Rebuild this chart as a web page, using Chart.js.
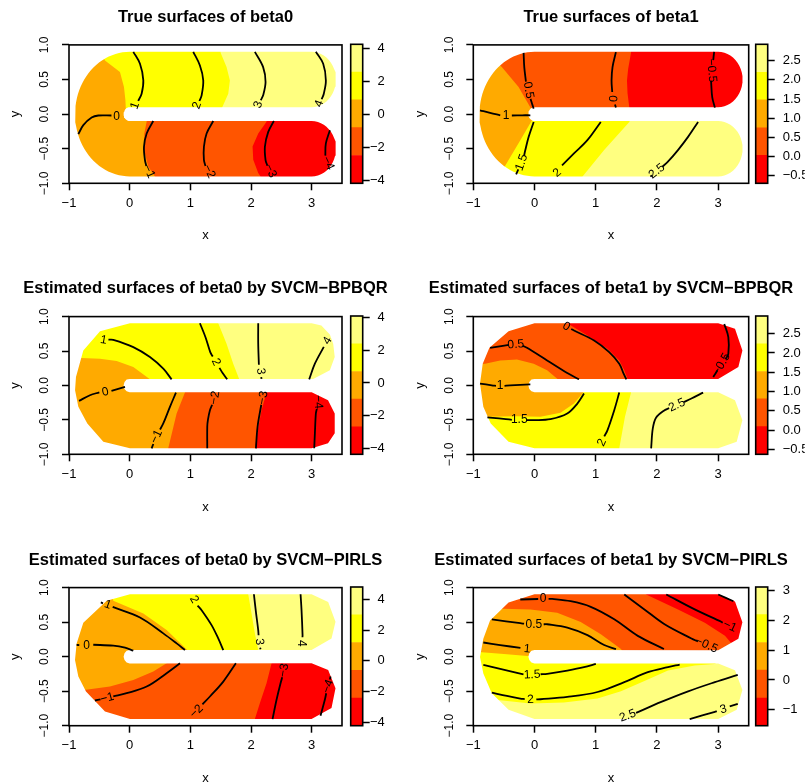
<!DOCTYPE html>
<html><head><meta charset="utf-8"><title>beta surfaces</title>
<script src="https://cdn.jsdelivr.net/npm/chart.js"></script>
<style>
html,body{margin:0;padding:0;background:#fff;}
body{width:811px;height:783px;overflow:hidden;position:relative;}
canvas{position:absolute;}
</style></head><body>
<script>
// ---------------- data ----------------
const heat = ['#FF0000', '#FF5500', '#FFAA00', '#FFFF00', '#FFFF80'];
const titles = ['True surfaces of beta0', 'True surfaces of beta1',
  'Estimated surfaces of beta0 by SVCM\u2212BPBQR', 'Estimated surfaces of beta1 by SVCM\u2212BPBQR',
  'Estimated surfaces of beta0 by SVCM\u2212PIRLS', 'Estimated surfaces of beta1 by SVCM\u2212PIRLS'];
const xTicks = [-1, 0, 1, 2, 3];
const xTickText = ['\u22121', '0', '1', '2', '3'];
const yTicks = [-1, -0.5, 0, 0.5, 1];
const yTickText = ['\u22121.0', '\u22120.5', '0.0', '0.5', '1.0'];

// colour key levels (band edges) and ticks
const key1Levels = [-4.16, -2.48, -0.80, 0.88, 2.56, 4.24];
const key2Levels = [-0.70, 0.03, 0.75, 1.48, 2.20, 2.93];
const key3Levels = [-4.37, -2.68, -0.99, 0.70, 2.40, 4.10];
const key4Levels = [-0.63, 0.09, 0.81, 1.52, 2.24, 2.96];
const key5Levels = [-4.24, -2.43, -0.62, 1.19, 3.00, 4.81];
const key6Levels = [-1.54, -0.61, 0.33, 1.26, 2.20, 3.13];
const keyTicksB0 = [-4, -2, 0, 2, 4];
const keyTextB0 = ['\u22124', '\u22122', '0', '2', '4'];
const keyTicksB1 = [-0.5, 0, 0.5, 1, 1.5, 2, 2.5];
const keyTextB1 = ['\u22120.5', '0.0', '0.5', '1.0', '1.5', '2.0', '2.5'];
const keyTicksB1p = [-1, 0, 1, 2, 3];
const keyTextB1p = ['\u22121', '0', '1', '2', '3'];

// horseshoe domain (true surfaces)
const armEnd = 3, outerR = 0.9, slitR = 0.1, endR = 0.4, armMid = 0.5;
const slitTip = [[0, 0.095], [-0.05, 0.085], [-0.085, 0.05], [-0.1, 0], [-0.085, -0.05], [-0.05, -0.085], [0, -0.098]];
// triangulated domain outlines of the estimates
const est3Outline = [[0.005, 0.904], [3.0, 0.904], [3.16, 0.87], [3.3, 0.74], [3.355, 0.605], [3.38, 0.412], [3.3, 0.219], [3.025, 0.095], ...slitTip,
  [3.0, -0.098], [3.27, -0.214], [3.38, -0.407], [3.38, -0.696], [3.27, -0.84], [3.0, -0.913], [0.005, -0.913],
  [-0.434, -0.817], [-0.698, -0.552], [-0.846, -0.31], [-0.9, -0.07], [-0.885, 0.123], [-0.764, 0.508], [-0.489, 0.788]];
const est4Outline = [[0.0, 0.904], [3.002, 0.904], [3.276, 0.822], [3.397, 0.508], [3.331, 0.267], [3.002, 0.095], ...slitTip,
  [3.002, -0.1], [3.276, -0.214], [3.397, -0.504], [3.304, -0.817], [3.002, -0.913], [0.0, -0.913],
  [-0.424, -0.817], [-0.715, -0.552], [-0.836, -0.311], [-0.89, 0.027], [-0.846, 0.316], [-0.737, 0.547], [-0.424, 0.788]];
const est5Outline = [[0.005, 0.904], [2.998, 0.904], [3.272, 0.793], [3.393, 0.505], [3.327, 0.264], [2.998, 0.096], ...slitTip,
  [2.998, -0.096], [3.272, -0.192], [3.393, -0.457], [3.327, -0.745], [2.998, -0.904], [0.005, -0.904],
  [-0.407, -0.793], [-0.72, -0.505], [-0.846, -0.288], [-0.901, -0.048], [-0.874, 0.192], [-0.764, 0.49], [-0.379, 0.808]];
const est6Outline = [[0.0, 0.904], [3.002, 0.904], [3.276, 0.799], [3.397, 0.498], [3.331, 0.258], [3.002, 0.091], ...slitTip,
  [3.002, -0.1], [3.276, -0.196], [3.397, -0.483], [3.304, -0.77], [3.002, -0.904], [0.0, -0.904],
  [-0.424, -0.77], [-0.698, -0.531], [-0.836, -0.244], [-0.89, -0.005], [-0.836, 0.258], [-0.726, 0.522], [-0.424, 0.785]];

const RECT = [[-1.2, 1.2], [3.7, 1.2], [3.7, -1.2], [-1.2, -1.2]];

// ---- panel 1 : true beta0 ----
const p1BandColor = [2, 3, 4, 1, 0];
const p1Bands = [RECT,
  [[-0.48, 1.05], [-0.44, 0.82], [-0.407, 0.775], [-0.16, 0.607], [-0.094, 0.39], [-0.07, 0.2], [-0.06, 0.0], [3.7, 0.0], [3.7, 1.05]],
  [[1.499, 1.05], [1.499, 0.885], [1.597, 0.679], [1.652, 0.487], [1.625, 0.295], [1.515, 0.079], [1.5, 0.0], [3.7, 0.0], [3.7, 1.05]],
  [[0.3, 0.0], [0.28, -0.11], [0.241, -0.28], [0.236, -0.52], [0.307, -0.76], [0.417, -0.9], [0.45, -1.05], [3.7, -1.05], [3.7, 0.0]],
  [[2.27, 0.0], [2.256, -0.11], [2.119, -0.28], [2.026, -0.47], [2.037, -0.66], [2.119, -0.85], [2.158, -0.9], [2.18, -1.05], [3.7, -1.05], [3.7, 0.0]]];
const p1Lines = [
  [[0.06, 0.9], [0.17, 0.727], [0.225, 0.487], [0.197, 0.295], [0.14, 0.19]],
  [[1.048, 0.9], [1.158, 0.703], [1.213, 0.487], [1.186, 0.271], [1.15, 0.19]],
  [[2.064, 0.9], [2.2, 0.679], [2.24, 0.463], [2.2, 0.271], [2.16, 0.2]],
  [[3.069, 0.9], [3.19, 0.727], [3.234, 0.487], [3.2, 0.295], [3.165, 0.215]],
  [[0.389, -0.1], [0.28, -0.28], [0.236, -0.472], [0.252, -0.664], [0.275, -0.75]],
  [[1.378, -0.1], [1.268, -0.281], [1.224, -0.472], [1.224, -0.664], [1.25, -0.75]],
  [[2.377, -0.1], [2.284, -0.257], [2.229, -0.472], [2.24, -0.664], [2.27, -0.745]],
  [[3.3, -0.233], [3.234, -0.424], [3.225, -0.6]],
  [[-0.846, -0.29], [-0.764, -0.16], [-0.627, -0.05], [-0.517, -0.02], [-0.3, -0.02]]];
const p1Labels = [[0.09, 0.12, '1'], [1.109, 0.125, '2'], [2.119, 0.135, '3'], [3.124, 0.15, '4'],
  [0.318, -0.83, '\u22121'], [1.312, -0.83, '\u22122'], [2.322, -0.82, '\u22123'], [3.272, -0.71, '\u22124'], [-0.215, -0.035, '0']];
const p1Tilt = [-70, -70, -70, -70, 65, 65, 65, 65, 0];

// ---- panel 2 : true beta1 ----
const p2BandColor = [2, 1, 0, 3, 4];
const p2Bands = [RECT,
  [[-0.62, 1.05], [-0.62, 0.75], [-0.534, 0.68], [-0.26, 0.39], [-0.041, 0.055], [0.0, 0.0], [3.7, 0.0], [3.7, 1.05]],
  [[1.577, 1.05], [1.577, 0.885], [1.53, 0.65], [1.511, 0.487], [1.52, 0.3], [1.549, 0.094], [1.56, 0], [3.7, 0], [3.7, 1.05]],
  [[0.0, 0.0], [-0.041, -0.089], [-0.232, -0.377], [-0.479, -0.746], [-0.55, -0.85], [-0.55, -1.05], [3.7, -1.05], [3.7, 0.0]],
  [[1.6, 0], [1.549, -0.113], [1.138, -0.52], [0.782, -0.904], [0.75, -1.05], [3.7, -1.05], [3.7, 0]]];
const p2Lines = [
  [[-0.178, 0.885], [-0.167, 0.679], [-0.14, 0.47]],
  [[-0.065, 0.22], [-0.04, 0.15], [-0.013, 0.079]],
  [[1.33, 0.895], [1.275, 0.679], [1.259, 0.487], [1.27, 0.32]],
  [[1.315, 0.14], [1.33, 0.094]],
  [[2.936, 0.9], [2.92, 0.78]],
  [[2.885, 0.48], [2.904, 0.247], [2.947, 0.094]],
  [[-0.89, 0.055], [-0.726, 0.017], [-0.56, -0.017]],
  [[-0.37, -0.02], [-0.2, -0.017], [-0.068, -0.017]],
  [[-0.013, -0.113], [-0.095, -0.329], [-0.15, -0.52], [-0.17, -0.6]],
  [[-0.265, -0.8], [-0.3, -0.87]],
  [[1.083, -0.113], [0.864, -0.377], [0.645, -0.568], [0.45, -0.74]],
  [[2.673, -0.113], [2.509, -0.329], [2.344, -0.52], [2.18, -0.688], [2.09, -0.76]],
  [[1.92, -0.885], [1.894, -0.904]]];
const p2Labels = [[-0.1, 0.345, '0.5'], [1.3, 0.225, '0'], [2.893, 0.63, '\u22120.5'], [-0.463, -0.025, '1'],
  [-0.21, -0.7, '1.5'], [0.37, -0.85, '2'], [2.0, -0.825, '2.5']];
const p2Tilt = [80, -85, 85, 0, -70, -40, -38];

// ---- panel 3 : beta0 by SVCM-BPBQR ----
const p3BandColor = [2, 3, 4, 1, 0];
const p3Bands = [RECT,
  [[-0.95, 0.40], [-0.79, 0.398], [-0.489, 0.388], [-0.215, 0.354], [0.06, 0.267], [0.334, 0.089], [0.36, 0], [3.7, 0], [3.7, 1.05], [-0.95, 1.05]],
  [[1.44, 1.05], [1.46, 0.904], [1.597, 0.605], [1.707, 0.316], [1.806, 0.089], [1.82, 0], [3.7, 0], [3.7, 1.05]],
  [[0.93, 0], [0.911, -0.104], [0.774, -0.407], [0.636, -0.913], [0.62, -1.05], [3.7, -1.05], [3.7, 0]],
  [[2.27, 0], [2.256, -0.104], [2.174, -0.359], [2.092, -0.745], [2.064, -0.913], [2.06, -1.05], [3.7, -1.05], [3.7, 0]]];
const p3Lines = [
  [[-0.35, 0.665], [-0.27, 0.663], [0.06, 0.557], [0.334, 0.412], [0.554, 0.243], [0.691, 0.089]],
  [[1.158, 0.904], [1.25, 0.7], [1.33, 0.48], [1.37, 0.42]],
  [[1.48, 0.255], [1.532, 0.181], [1.608, 0.089]],
  [[2.119, 0.904], [2.119, 0.605], [2.13, 0.3]],
  [[2.168, 0.12], [2.174, 0.095]],
  [[3.2, 0.56], [3.053, 0.316], [2.959, 0.089]],
  [[-0.835, -0.224], [-0.654, -0.142], [-0.5, -0.1]],
  [[-0.3, -0.08], [-0.077, -0.022]],
  [[0.763, -0.104], [0.664, -0.311], [0.554, -0.552], [0.5, -0.64]],
  [[0.39, -0.85], [0.362, -0.913]],
  [[1.36, -0.28], [1.323, -0.359], [1.29, -0.5], [1.279, -0.6], [1.279, -0.913]],
  [[2.17, -0.28], [2.158, -0.335], [2.108, -0.6], [2.081, -0.913]],
  [[3.085, -0.34], [3.069, -0.407], [3.053, -0.696], [3.042, -0.913]]];
const p3Labels = [[-0.43, 0.658, '1'], [1.422, 0.34, '2'], [2.157, 0.205, '3'], [3.262, 0.65, '4'], [-0.4, -0.095, '0'],
  [0.44, -0.745, '\u22121'], [1.405, -0.18, '\u22122'], [2.202, -0.18, '\u22123'], [3.107, -0.24, '\u22124']];
const p3Tilt = [10, 65, 85, -60, -12, -65, -80, -80, 85];

// ---- panel 4 : beta1 by SVCM-BPBQR ----
const p4BandColor = [2, 1, 0, 3, 4];
const p4Bands = [RECT,
  [[-0.95, 0.31], [-0.808, 0.316], [-0.561, 0.364], [-0.287, 0.378], [-0.013, 0.316], [0.206, 0.219], [0.382, 0.089], [0.42, 0], [3.7, 0], [3.7, 1.05], [-0.95, 1.05]],
  [[0.5, 1.05], [0.535, 0.904], [0.864, 0.725], [1.193, 0.533], [1.385, 0.364], [1.467, 0.219], [1.522, 0.089], [1.53, 0], [3.7, 0], [3.7, 1.05]],
  [[-0.95, -0.455], [-0.753, -0.455], [-0.287, -0.446], [0.096, -0.455], [0.425, -0.398], [0.645, -0.263], [0.798, -0.104], [0.82, 0], [3.7, 0], [3.7, -1.05], [-0.95, -1.05]],
  [[1.59, 0], [1.577, -0.104], [1.478, -0.455], [1.385, -0.913], [1.37, -1.05], [3.7, -1.05], [3.7, 0]]];
const p4Lines = [
  [[0.6, 0.82], [0.645, 0.798], [0.974, 0.653], [1.22, 0.484], [1.385, 0.316], [1.456, 0.171], [1.5, 0.089]],
  [[-0.726, 0.547], [-0.518, 0.576], [-0.42, 0.59]],
  [[-0.19, 0.575], [-0.123, 0.547], [0.206, 0.364], [0.535, 0.181], [0.727, 0.089]],
  [[-0.89, 0.027], [-0.698, 0.002], [-0.63, -0.005]],
  [[-0.49, -0.005], [-0.397, 0.002], [-0.068, 0.017]],
  [[-0.77, -0.465], [-0.507, -0.484], [-0.37, -0.5]],
  [[-0.13, -0.504], [-0.013, -0.504], [0.261, -0.489], [0.535, -0.407], [0.7, -0.263], [0.809, -0.118]],
  [[1.385, -0.104], [1.303, -0.359], [1.193, -0.648], [1.14, -0.74]],
  [[2.755, -0.104], [2.564, -0.19], [2.44, -0.24]],
  [[2.2, -0.33], [2.125, -0.359], [1.988, -0.465], [1.933, -0.624], [1.906, -0.913]],
  [[3.101, 0.894], [3.167, 0.701], [3.167, 0.46], [3.12, 0.38]],
  [[2.99, 0.22], [2.92, 0.123]]];
const p4Labels = [[0.519, 0.855, '0'], [-0.304, 0.595, '0.5'], [-0.561, -0.008, '1'], [-0.249, -0.504, '1.5'],
  [1.1, -0.83, '2'], [2.328, -0.287, '2.5'], [3.057, 0.306, '\u22120.5']];
const p4Tilt = [30, -5, 0, 0, -65, -25, -60];

// ---- panel 5 : beta0 by SVCM-PIRLS ----
const p5BandColor = [2, 3, 4, 1, 0];
const p5Bands = [RECT,
  [[-0.35, 1.05], [-0.27, 0.808], [0.225, 0.625], [0.609, 0.385], [0.949, 0.096], [0.96, 0], [3.7, 0], [3.7, 1.05]],
  [[1.95, 1.05], [1.954, 0.904], [2.009, 0.625], [2.064, 0.337], [2.119, 0.096], [2.12, 0], [3.7, 0], [3.7, 1.05]],
  [[-0.95, -0.49], [-0.72, -0.481], [-0.325, -0.433], [0.06, -0.337], [0.389, -0.216], [0.609, -0.096], [0.65, 0], [3.7, 0], [3.7, -1.05], [-0.95, -1.05]],
  [[2.35, 0], [2.339, -0.096], [2.256, -0.385], [2.147, -0.673], [2.064, -0.904], [2.05, -1.05], [3.7, -1.05], [3.7, 0]]];
const p5Lines = [
  [[-0.475, 0.785], [-0.44, 0.772]],
  [[-0.28, 0.72], [0.17, 0.567], [0.554, 0.337], [0.774, 0.192], [0.911, 0.096]],
  [[1.12, 0.74], [1.186, 0.673], [1.35, 0.457], [1.46, 0.264], [1.543, 0.096]],
  [[2.048, 0.904], [2.081, 0.649], [2.119, 0.385], [2.125, 0.31]],
  [[2.15, 0.13], [2.158, 0.106]],
  [[2.817, 0.904], [2.833, 0.673], [2.85, 0.312], [2.848, 0.28]],
  [[-0.875, 0.17], [-0.83, 0.168]],
  [[-0.6, 0.172], [-0.27, 0.159], [-0.077, 0.13], [0.06, 0.087]],
  [[0.829, -0.096], [0.609, -0.24], [0.28, -0.433], [-0.05, -0.529], [-0.27, -0.575]],
  [[-0.48, -0.62], [-0.572, -0.635]],
  [[1.751, -0.096], [1.543, -0.361], [1.323, -0.577], [1.2, -0.69]],
  [[2.515, -0.3], [2.487, -0.385], [2.421, -0.625], [2.355, -0.904]],
  [[3.311, -0.288], [3.3, -0.33]],
  [[3.24, -0.53], [3.217, -0.625], [3.146, -0.856]]];
const p5Labels = [[-0.363, 0.75, '1'], [1.059, 0.827, '2'], [2.136, 0.216, '3'], [2.833, 0.192, '4'], [-0.709, 0.162, '0'],
  [-0.368, -0.6, '\u22121'], [1.103, -0.793, '\u22122'], [2.542, -0.2, '\u22123'], [3.272, -0.433, '\u22124']];
const p5Tilt = [20, 60, 85, 90, 0, -15, -45, -80, -70];

// ---- panel 6 : beta1 by SVCM-PIRLS ----
const p6BandColor = [2, 1, 0, 3, 4];
const p6Bands = [RECT,
  [[-1.0, 1.05], [-1.0, 0.69], [-0.507, 0.693], [-0.067, 0.684], [0.371, 0.636], [0.755, 0.502], [1.084, 0.326], [1.413, 0.11], [1.5, 0], [3.7, 0], [3.7, 1.05]],
  [[1.80, 1.05], [1.824, 0.9], [2.345, 0.684], [2.783, 0.492], [3.112, 0.301], [3.276, 0.133], [3.35, 0], [3.7, 0], [3.7, 1.05]],
  [[-1.0, 0.07], [-0.862, 0.062], [-0.5, 0.04], [-0.067, 0.004], [0, 0], [3.7, 0], [3.7, -1.05], [-1.0, -1.05]],
  [[-1.0, -0.62], [-0.561, -0.631], [-0.067, -0.679], [0.48, -0.664], [1.029, -0.607], [1.413, -0.502], [1.852, -0.33], [2.181, -0.201], [2.618, -0.129], [2.947, -0.105], [3.1, 0], [3.7, 0], [3.7, -1.05], [-1.0, -1.05]]];
const p6Lines = [
  [[-0.232, 0.828], [0.06, 0.835]],
  [[0.23, 0.836], [0.289, 0.836], [0.59, 0.803], [0.919, 0.722], [1.303, 0.541], [1.688, 0.301], [2.115, 0.11]],
  [[-0.697, 0.541], [-0.232, 0.484], [-0.17, 0.477]],
  [[0.15, 0.469], [0.207, 0.469], [0.536, 0.42], [0.865, 0.311], [1.138, 0.168], [1.331, 0.11]],
  [[-0.836, 0.205], [-0.561, 0.168], [-0.23, 0.126]],
  [[1.467, 0.9], [1.796, 0.684], [2.125, 0.469], [2.564, 0.263], [2.67, 0.22]],
  [[2.153, 0.9], [2.618, 0.684], [3.058, 0.502], [3.075, 0.492]],
  [[3.003, 0.9], [3.25, 0.803]],
  [[-0.836, -0.119], [-0.561, -0.177], [-0.286, -0.234], [-0.18, -0.255]],
  [[0.1, -0.255], [0.207, -0.248], [0.536, -0.201], [0.809, -0.153], [1.002, -0.105]],
  [[-0.697, -0.521], [-0.451, -0.569], [-0.232, -0.607], [-0.16, -0.615]],
  [[0.03, -0.62], [0.097, -0.617], [0.536, -0.584], [1.029, -0.512], [1.467, -0.369], [1.852, -0.225], [2.181, -0.153], [2.372, -0.115]],
  [[1.66, -0.815], [2.071, -0.656], [2.51, -0.502], [2.947, -0.369], [3.321, -0.263]],
  [[2.536, -0.904], [2.947, -0.799], [2.98, -0.792]],
  [[3.19, -0.72], [3.321, -0.684]]];
const p6Labels = [[0.141, 0.836, '0'], [-0.01, 0.469, '0.5'], [-0.122, 0.11, '1'], [2.81, 0.168, '\u22120.5'], [3.19, 0.44, '\u22121'],
  [-0.04, -0.263, '1.5'], [-0.067, -0.621, '2'], [1.523, -0.857, '2.5'], [3.085, -0.765, '3']];
const p6Tilt = [0, 0, 5, 24, 25, -3, -2, -20, -15];

// ---------------- helpers ----------------
function arcPts(cx, cy, r, a0, a1, n) {
  const p = [];
  for (let k = 0; k <= n; k++) {
    const a = (a0 + (a1 - a0) * k / n) * Math.PI / 180;
    p.push([cx + r * Math.cos(a), cy + r * Math.sin(a)]);
  }
  return p;
}
const trueOutline = [].concat(
  [[0, outerR]],
  arcPts(armEnd, armMid, endR, 90, -90, 24),
  arcPts(0, 0, slitR, 90, 270, 16),
  arcPts(armEnd, -armMid, endR, 90, -90, 24),
  arcPts(0, 0, outerR, 270, 90, 48));

function maskOf(outline) {
  const r = outline.slice().reverse();
  r.push(r[0]);
  return RECT.concat([[-1.2, 1.2]], r);
}

Chart.defaults.font.family = '"Liberation Sans", Arial, Helvetica, sans-serif';
Chart.defaults.color = '#000';

const framePlugin = {
  id: 'frame',
  afterDraw(chart) {
    const a = chart.chartArea, c = chart.ctx;
    c.save(); c.strokeStyle = '#000'; c.lineWidth = 1.6;
    c.strokeRect(a.left, a.top, a.right - a.left, a.bottom - a.top);
    c.restore();
  }
};
function labelPlugin(items, tilts) {
  return {
    id: 'clabels',
    afterDatasetsDraw(chart) {
      const sx = chart.scales.x, sy = chart.scales.y, c = chart.ctx;
      c.save();
      c.font = '12px "Liberation Sans", Arial, sans-serif';
      c.fillStyle = '#000'; c.textAlign = 'center'; c.textBaseline = 'middle';
      items.forEach((it, i) => {
        c.save();
        c.translate(sx.getPixelForValue(it[0]), sy.getPixelForValue(it[1]));
        c.rotate((tilts[i] || 0) * Math.PI / 180);
        c.fillText(it[2], 0, 0);
        c.restore();
      });
      c.restore();
    }
  };
}
function addCanvas(left, top, w, h) {
  const c = document.createElement('canvas');
  c.width = w; c.height = h;
  c.style.left = left + 'px'; c.style.top = top + 'px';
  c.style.width = w + 'px'; c.style.height = h + 'px';
  document.body.appendChild(c);
  return c;
}

const ROWS = [
  {top: 0, h: 250, tTop: 7.5, tBot: 17.6, aTop: 44.3, aBot: 183.3},
  {top: 262, h: 260, tTop: 16.5, tBot: 18.3, aTop: 54, aBot: 192.3},
  {top: 523, h: 270, tTop: 27.5, tBot: 17.3, aTop: 64, aBot: 202.7}];
// panel canvases are symmetric around the plot so the title centres over it
const COLS = [
  {left: 0, w: 411, yW: 69, yT: 7.2, kLeft: 345, kW: 55, kAxW: 22, kPadR: 15.3, kAlign: 'far', kPad: 0},
  {left: 400, w: 422, yW: 73.3, yT: 12.2, kLeft: 750, kW: 61, kAxW: 37, kPadR: 6.3, kAlign: 'near', kPad: 8}];

const panels = [
  {bands: p1Bands, colors: p1BandColor, outline: trueOutline, lines: p1Lines, labels: p1Labels, tilts: p1Tilt, levels: key1Levels, kt: keyTicksB0, ktx: keyTextB0},
  {bands: p2Bands, colors: p2BandColor, outline: trueOutline, lines: p2Lines, labels: p2Labels, tilts: p2Tilt, levels: key2Levels, kt: keyTicksB1, ktx: keyTextB1},
  {bands: p3Bands, colors: p3BandColor, outline: est3Outline, lines: p3Lines, labels: p3Labels, tilts: p3Tilt, levels: key3Levels, kt: keyTicksB0, ktx: keyTextB0},
  {bands: p4Bands, colors: p4BandColor, outline: est4Outline, lines: p4Lines, labels: p4Labels, tilts: p4Tilt, levels: key4Levels, kt: keyTicksB1, ktx: keyTextB1},
  {bands: p5Bands, colors: p5BandColor, outline: est5Outline, lines: p5Lines, labels: p5Labels, tilts: p5Tilt, levels: key5Levels, kt: keyTicksB0, ktx: keyTextB0},
  {bands: p6Bands, colors: p6BandColor, outline: est6Outline, lines: p6Lines, labels: p6Labels, tilts: p6Tilt, levels: key6Levels, kt: keyTicksB1p, ktx: keyTextB1p}];

const tickGrid = {display: true, drawOnChartArea: false, drawTicks: true, tickLength: 7, tickColor: '#000', tickWidth: 1.5};

panels.forEach((P, i) => {
  const R = ROWS[Math.floor(i / 2)], C = COLS[i % 2];
  const datasets = [];
  P.bands.forEach((poly, k) => datasets.push({data: poly, backgroundColor: heat[P.colors[k]], borderColor: 'transparent', borderWidth: 0, fill: 'shape', pointRadius: 0, tension: 0}));
  datasets.push({data: maskOf(P.outline), backgroundColor: '#ffffff', borderColor: 'transparent', borderWidth: 0, fill: 'shape', pointRadius: 0, tension: 0});
  P.lines.forEach(seg => datasets.push({data: seg, borderColor: '#000', borderWidth: 1.8, fill: false, pointRadius: 0, tension: 0.35}));
  datasets.forEach((d, k) => { d.order = -k; });

  new Chart(addCanvas(C.left, R.top, C.w, R.h), {
    type: 'line',
    data: {datasets},
    options: {
      responsive: false, animation: false, events: [],
      layout: {padding: 0},
      plugins: {
        legend: {display: false}, tooltip: {enabled: false},
        title: {display: true, text: titles[i], color: '#000', font: {size: 16.5, weight: 'bold'}, padding: {top: R.tTop, bottom: R.tBot}}
      },
      scales: {
        x: {type: 'linear', min: -1, max: 3.5,
          afterBuildTicks: s => { s.ticks = xTicks.map(v => ({value: v})); },
          afterFit: s => { s.height = R.h - R.aBot; },
          ticks: {callback: v => xTickText[xTicks.indexOf(v)], maxRotation: 0, autoSkip: false, padding: 5.2, color: '#000', font: {size: 13}},
          grid: tickGrid, border: {display: false},
          title: {display: true, text: 'x', color: '#000', font: {size: 13}, padding: {top: 0, bottom: 7.2}}},
        y: {type: 'linear', min: -1, max: 1,
          afterBuildTicks: s => { s.ticks = yTicks.map(v => ({value: v})); },
          afterFit: s => { s.width = C.yW; },
          ticks: {callback: v => yTickText[yTicks.indexOf(v)], minRotation: 90, maxRotation: 90, crossAlign: 'center', autoSkip: false, padding: 5, color: '#000', font: {size: 12}},
          grid: tickGrid, border: {display: false},
          title: {display: true, text: 'y', color: '#000', font: {size: 13}, padding: {top: C.yT, bottom: 0}}},
        yr: {type: 'linear', position: 'right', display: true,
          afterFit: s => { s.width = C.yW; },
          ticks: {display: false}, grid: {display: false}, border: {display: false}}
      }
    },
    plugins: [labelPlugin(P.labels, P.tilts), framePlugin]
  });

  // colour key
  const kds = heat.map((col, k) => ({data: [[P.levels[k], P.levels[k + 1]]], backgroundColor: col, borderWidth: 0, grouped: false, barPercentage: 1, categoryPercentage: 1}));
  new Chart(addCanvas(C.kLeft, R.top, C.kW, R.h), {
    type: 'bar',
    data: {labels: [''], datasets: kds},
    options: {
      responsive: false, animation: false, events: [],
      layout: {padding: {left: 5.7, right: C.kPadR, top: R.aTop, bottom: R.h - R.aBot}},
      plugins: {legend: {display: false}, tooltip: {enabled: false}},
      scales: {
        x: {display: false},
        y: {position: 'right', min: P.levels[0], max: P.levels[5],
          afterBuildTicks: s => { s.ticks = P.kt.map(v => ({value: v})); },
          afterFit: s => { s.width = C.kAxW; },
          ticks: {callback: v => P.ktx[P.kt.indexOf(v)], crossAlign: C.kAlign, padding: C.kPad, autoSkip: false, color: '#000', font: {size: 13}},
          grid: tickGrid, border: {display: false}}
      }
    },
    plugins: [framePlugin]
  });
});
</script>
</body></html>
